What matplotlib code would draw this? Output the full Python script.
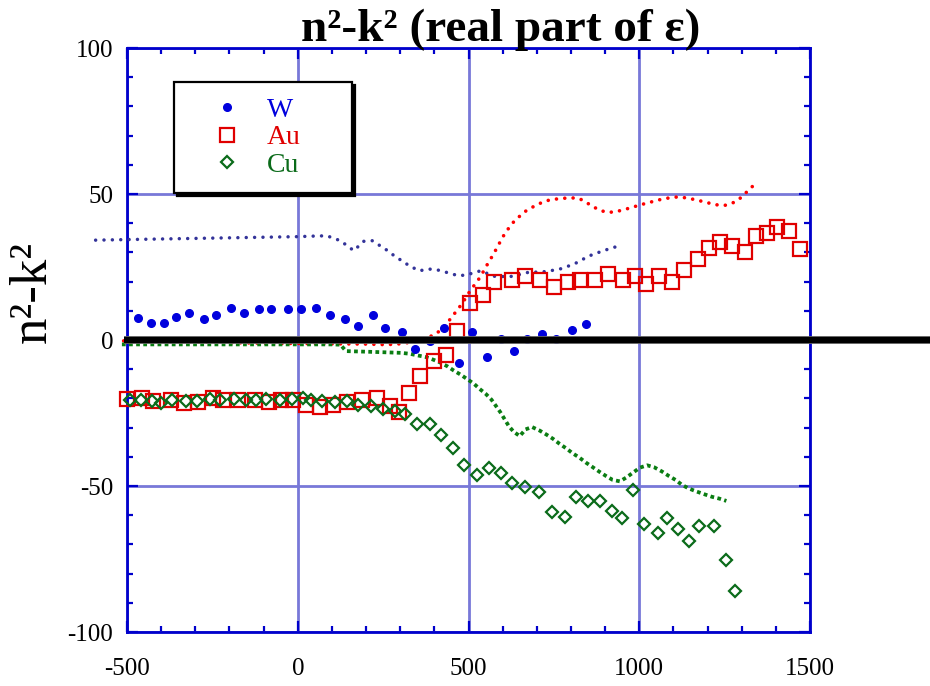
import matplotlib
matplotlib.use("Agg")
import matplotlib.pyplot as plt
from matplotlib.ticker import MultipleLocator

plt.rcParams["font.family"] = ["Liberation Serif", "DejaVu Serif"]
plt.rcParams["axes.unicode_minus"] = False

# W (tungsten): measured points and dotted reference curve
w_x = [-469, -430, -391, -357, -318, -274, -240, -196, -157, -113, -79, -29, 10, 54, 93,
       137, 177, 221, 255, 304, 343, 386, 428, 471, 511, 555, 594, 633, 672, 716, 755, 804, 844]
w_y = [7.4, 5.9, 5.9, 8.0, 9.2, 7.3, 8.7, 11.1, 9.2, 10.5, 10.5, 10.5, 10.5, 11.1, 8.6,
       7.3, 4.8, 8.6, 4.0, 2.7, -3.2, -0.2, 4.0, -7.8, 2.7, -5.7, 0.2, -3.7, 0.2, 2.0, 0.2, 3.4, 5.4]
wl_x = [-592, -500, -400, -300, -200, -100, 0, 50, 85, 125, 164, 193, 218, 257, 276, 315, 335,
        357, 379, 403, 447, 470, 494, 535, 579, 628, 672, 721, 765, 809, 853, 895, 939]
wl_y = [34.2, 34.4, 34.6, 34.8, 35.0, 35.2, 35.4, 35.6, 35.7, 34.0, 30.6, 33.8, 34.0, 31.1, 29.4,
        26.3, 24.9, 23.7, 24.3, 24.2, 22.8, 22.0, 22.3, 23.7, 21.7, 21.8, 23.1, 23.4, 24.2, 26.0,
        28.8, 30.6, 32.2]

# Au (gold)
au_x = [-501, -457, -423, -371, -333, -292, -248, -218, -175, -126, -84, -48, -14, 23, 66, 103,
        144, 189, 232, 269, 296, 327, 359, 399, 433, 466, 505, 542, 576, 627, 666, 710, 749, 792,
        827, 870, 909, 953, 987, 1020, 1058, 1097, 1132, 1171, 1203, 1237, 1271, 1310, 1341, 1375,
        1404, 1437, 1470]
au_y = [-20.1, -20.0, -21.0, -20.6, -21.5, -21.3, -19.8, -20.4, -20.4, -20.4, -21.3, -20.4, -20.4,
        -22.4, -23.0, -22.1, -21.3, -20.4, -19.8, -22.7, -24.6, -18.1, -12.4, -7.3, -5.3, 3.2, 12.8,
        15.5, 20.0, 20.6, 21.9, 20.6, 18.1, 20.0, 20.6, 20.6, 22.6, 20.7, 22.0, 19.3, 21.9, 20.0,
        24.0, 27.7, 31.6, 33.7, 32.3, 30.2, 35.6, 36.7, 38.8, 37.4, 31.1]
aul_x = [-510, -400, -300, -200, -100, 0, 100, 200, 260, 300, 340, 370, 400, 420, 438, 452, 467,
         482, 506, 521, 535, 557, 570, 581, 592, 604, 617, 631, 646, 664, 684, 705, 728, 750, 775,
         799, 824, 840, 861, 882, 907, 929, 951, 975, 995, 1019, 1042, 1065, 1089, 1112, 1136,
         1158, 1180, 1204, 1227, 1250, 1273, 1293, 1310, 1327, 1342]
aul_y = [-0.3, -0.4, -0.6, -0.9, -1.1, -1.2, -1.3, -1.4, -1.6, -1.3, -0.6, 0.4, 1.8, 3.5, 5.9, 8.0,
         10.3, 12.6, 17.1, 19.4, 21.7, 26.3, 28.8, 31.1, 33.5, 36.0, 38.2, 40.3, 42.0, 43.9, 45.3,
         46.6, 47.7, 48.2, 48.5, 48.7, 48.5, 47.4, 46.0, 44.5, 43.7, 43.9, 44.5, 45.3, 46.0, 46.8,
         47.5, 48.2, 48.7, 49.0, 48.7, 48.2, 47.6, 46.9, 46.3, 46.1, 46.9, 48.3, 50.2, 52.0, 54.1]

# Cu (copper)
cu_x = [-491, -460, -428, -401, -369, -327, -294, -257, -228, -187, -152, -121, -94, -51, -18, 14,
        40, 72, 108, 144, 176, 213, 249, 284, 315, 349, 387, 420, 454, 488, 525, 559, 594, 627, 664,
        705, 744, 783, 815, 849, 885, 920, 949, 981, 1015, 1054, 1081, 1112, 1146, 1175, 1219, 1254,
        1281]
cu_y = [-20.4, -20.6, -21.0, -21.5, -20.6, -21.0, -21.0, -20.1, -20.4, -20.1, -20.6, -20.6, -20.1,
        -20.6, -20.1, -19.8, -20.6, -21.0, -21.3, -21.0, -22.3, -22.6, -23.5, -24.4, -25.3, -28.7,
        -28.7, -32.5, -37.1, -42.9, -46.2, -44.0, -45.6, -48.8, -50.5, -52.0, -59.0, -60.5, -53.9,
        -55.3, -55.3, -58.5, -61.1, -51.4, -62.9, -66.2, -60.9, -64.8, -69.0, -63.6, -63.6, -75.3,
        -86.1]
cul_x = [-515, -400, -300, -200, -100, 0, 100, 125, 141, 200, 254, 303, 327, 352, 374, 396, 415,
         438, 456, 476, 495, 516, 532, 550, 567, 581, 593, 605, 618, 632, 650, 667, 686, 708, 727,
         747, 766, 786, 805, 825, 844, 863, 883, 903, 922, 943, 962, 983, 1002, 1023, 1044, 1066,
         1087, 1106, 1125, 1144, 1168, 1190, 1213, 1234, 1255]
cul_y = [-1.5, -1.5, -1.5, -1.5, -1.5, -1.5, -1.5, -1.6, -3.8, -4.0, -4.2, -4.4, -4.7, -5.3, -5.8,
         -6.7, -7.6, -9.0, -10.4, -11.8, -13.3, -15.0, -16.7, -18.4, -20.4, -22.7, -24.7, -27.0,
         -29.5, -31.4, -32.9, -30.6, -29.8, -31.0, -32.3, -33.8, -35.5, -37.1, -38.8, -40.3, -42.0,
         -43.5, -45.1, -46.6, -47.9, -48.4, -47.1, -45.3, -43.7, -42.9, -43.6, -45.0, -46.6, -47.9,
         -49.6, -50.8, -51.9, -52.8, -53.7, -54.3, -55.1]

zero_x = [-510, 1900]
zero_y = [0, 0]

x_ticks = [-500, 0, 500, 1000, 1500]
y_ticks = [-100, -50, 0, 50, 100]

BLUE = "#0000dd"
AXBLUE = "#0000cc"
GRID = "#7878d8"
NAVY = "#333399"
RED = "#e00000"
GREEN = "#0b6b1a"
GREEN_L = "#0a7d12"

fig = plt.figure(figsize=(9.3, 6.86), dpi=100)
ax = fig.add_axes([0.1366, 0.0787, 0.7344, 0.8513])
ax.set_xlim(-500, 1500)
ax.set_ylim(-100, 100)

# dotted curves
ax.plot(wl_x, wl_y, color=NAVY, lw=2.5, ls=(0, (0.01, 2.4)), dash_capstyle="round",
        clip_on=False, zorder=3)
ax.plot(aul_x, aul_y, color="#ff0000", lw=2.6, ls=(0, (0.01, 2.3)), dash_capstyle="round",
        clip_on=False, zorder=3)
ax.plot(cul_x, cul_y, color=GREEN_L, lw=2.7, ls=(0, (1, 0.9)), dash_capstyle="butt",
        clip_on=False, zorder=3)

# measured points
ax.plot(w_x, w_y, ls="none", marker="o", ms=5.5, color=BLUE, mec=BLUE, clip_on=False,
        zorder=4, label="W")
ax.plot(au_x, au_y, ls="none", marker="s", ms=9.5, mfc="none", mec=RED, mew=1.6,
        clip_on=False, zorder=4, label="Au")
ax.plot(cu_x, cu_y, ls="none", marker="D", ms=6.2, mfc="none", mec=GREEN, mew=1.6,
        clip_on=False, zorder=4, label="Cu")

# thick zero line running out past the frame
ax.plot(zero_x, zero_y, color="#777777", lw=5.6, solid_capstyle="butt", clip_on=False, zorder=5)
ax.plot(zero_x, zero_y, color="black", lw=4.6, solid_capstyle="butt", clip_on=False, zorder=6)

ax.set_xticks(x_ticks)
ax.set_yticks(y_ticks)
ax.xaxis.set_minor_locator(MultipleLocator(100))
ax.yaxis.set_minor_locator(MultipleLocator(10))
ax.grid(True, which="major", color=GRID, lw=2.0, zorder=0)
ax.set_axisbelow(True)
for s in ax.spines.values():
    s.set_color(AXBLUE)
    s.set_linewidth(2.0)
ax.tick_params(which="both", direction="in", top=True, right=True, color=AXBLUE,
               labelsize=18)
ax.tick_params(which="major", length=8, width=1.6)
ax.tick_params(which="minor", length=4.5, width=1.6)
ax.tick_params(axis="x", pad=19)
ax.tick_params(axis="y", pad=10)

leg = ax.legend(loc="upper left", bbox_to_anchor=(0.0688, 0.77, 0.2606, 0.1718), mode="expand",
                borderaxespad=0, fontsize=20, handlelength=2.7, handletextpad=0.1,
                labelspacing=0.08, borderpad=0.55, numpoints=1, labelcolor="markeredgecolor",
                fancybox=False, shadow={"color": "black", "alpha": 1})
leg.get_frame().set_edgecolor("black")
leg.get_frame().set_linewidth(1.6)
leg.set_zorder(7)

fig.text(501 / 930, 1 - 41 / 686, "n²-k² (real part of ε)", ha="center", va="baseline",
         fontsize=34, fontweight="bold")
fig.text(33 / 930, 1 - 292 / 686, "n²-k²", rotation=90, ha="center", va="center", fontsize=38)

fig.savefig("out.png", dpi=100)
